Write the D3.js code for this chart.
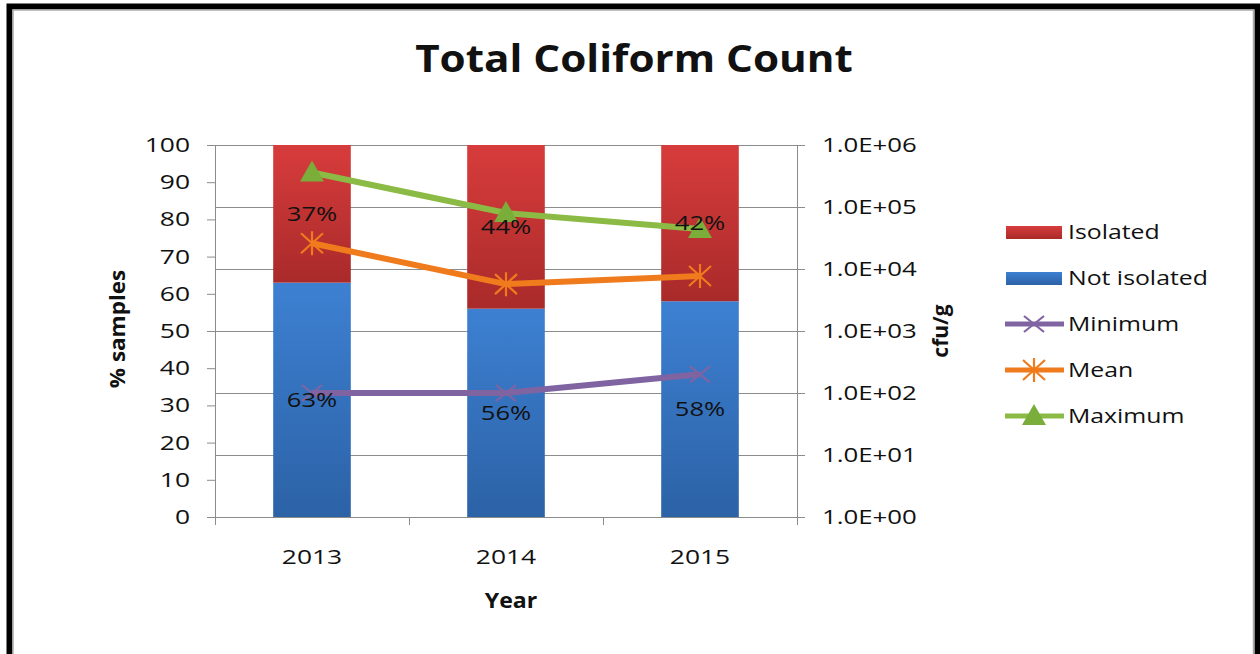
<!DOCTYPE html>
<html>
<head>
<meta charset="utf-8">
<script src="https://cdn.jsdelivr.net/npm/d3@7"></script>
<style>
  html, body { margin: 0; padding: 0; background: #fff; }
  svg { display: block; }
  text { font-family: "Open Sans", "Liberation Sans", sans-serif; fill: #111; }
</style>
</head>
<body>
<svg id="chart" width="1260" height="654"></svg>
<script>
// Survey years
const years = ["2013", "2014", "2015"];
// Share of samples (%)
const notIsolated = [63, 56, 58];
const isolated = [37, 44, 42];
// Counts in cfu/g (log axis)
const minimum = [100, 100, 200];
const mean = [26000, 5700, 7700];
const maximum = [360000, 80000, 44000];
// Axis ticks
const pctTicks = [0, 10, 20, 30, 40, 50, 60, 70, 80, 90, 100];
const logTicks = [1, 10, 100, 1000, 10000, 100000, 1000000];

const svg = d3.select("#chart");

// widen glyphs horizontally by factor k
function stretch(sel, k) {
  sel.each(function () {
    const w = this.getComputedTextLength();
    d3.select(this).attr("textLength", w * k).attr("lengthAdjust", "spacingAndGlyphs");
  });
}

// frame
svg.append("rect").attr("x", 9.5).attr("y", 6.5).attr("width", 1248).attr("height", 660)
  .attr("fill", "none").attr("stroke", "#000").attr("stroke-width", 6);
svg.append("rect").attr("x", 13).attr("y", 10).attr("width", 1240.5).attr("height", 660)
  .attr("fill", "none").attr("stroke", "#aaa").attr("stroke-width", 1.5);

const plotLeft = 215, plotRight = 797, plotTop = 145, plotBottom = 517;

const x = d3.scaleBand().domain(years).range([plotLeft, plotRight]).paddingInner(0.6).paddingOuter(0.3);
const xCenter = d => x(d) + x.bandwidth() / 2;
const yPct = d3.scaleLinear().domain([0, 100]).range([plotBottom, plotTop]);
const yLog = d3.scaleLog().domain([1, 1000000]).range([plotBottom, plotTop]);

// gradients for bars
const defs = svg.append("defs");
function grad(id, c1, c2) {
  const g = defs.append("linearGradient").attr("id", id).attr("x1", 0).attr("y1", 0).attr("x2", 0).attr("y2", 1);
  g.append("stop").attr("offset", "0%").attr("stop-color", c1);
  g.append("stop").attr("offset", "100%").attr("stop-color", c2);
}
grad("gRed", "#d83c3c", "#a92a2a");
grad("gBlue", "#3d80d2", "#2c62a6");

// gridlines from log ticks
svg.append("g").selectAll("line").data(logTicks).join("line")
  .attr("x1", plotLeft).attr("x2", plotRight)
  .attr("y1", d => Math.round(yLog(d)) + 0.5).attr("y2", d => Math.round(yLog(d)) + 0.5)
  .attr("stroke", "#8c8c8c").attr("stroke-width", 1);

// stacked bars
const bars = svg.append("g");
years.forEach((yr, i) => {
  bars.append("rect").attr("x", x(yr)).attr("width", x.bandwidth())
    .attr("y", yPct(notIsolated[i])).attr("height", yPct(0) - yPct(notIsolated[i]))
    .attr("fill", "url(#gBlue)");
  bars.append("rect").attr("x", x(yr)).attr("width", x.bandwidth())
    .attr("y", yPct(notIsolated[i] + isolated[i])).attr("height", yPct(notIsolated[i]) - yPct(notIsolated[i] + isolated[i]))
    .attr("fill", "url(#gRed)");
});

// left axis
const axL = svg.append("g").attr("transform", `translate(${plotLeft},0)`)
  .call(d3.axisLeft(yPct).tickValues(pctTicks).tickSize(8).tickPadding(17).tickFormat(d3.format("d")));
axL.select(".domain").attr("stroke", "#8c8c8c");
axL.selectAll(".tick line").attr("stroke", "#8c8c8c");
axL.selectAll("text").attr("font-size", 20).attr("fill", "#111").attr("font-family", "Open Sans");
stretch(axL.selectAll("text"), 1.32);

// right axis
const axR = svg.append("g").attr("transform", `translate(${plotRight},0)`)
  .call(d3.axisRight(yLog).tickValues(logTicks).tickSize(8).tickPadding(17)
    .tickFormat(d => "1.0E+" + String(Math.round(Math.log10(d))).padStart(2, "0")));
axR.select(".domain").attr("stroke", "#8c8c8c");
axR.selectAll(".tick line").attr("stroke", "#8c8c8c").attr("x1", -8).attr("x2", 8);
axR.selectAll("text").attr("font-size", 20).attr("fill", "#111").attr("font-family", "Open Sans");
stretch(axR.selectAll("text"), 1.29);

// bottom axis
const bandEdges = [plotLeft, plotLeft + (plotRight - plotLeft) / 3, plotLeft + 2 * (plotRight - plotLeft) / 3, plotRight];
const axB = svg.append("g").attr("transform", `translate(0,${plotBottom})`);
axB.append("line").attr("x1", plotLeft).attr("x2", plotRight).attr("y1", 0.5).attr("y2", 0.5).attr("stroke", "#8c8c8c");
axB.selectAll(".tk").data(bandEdges).join("line").attr("class", "tk")
  .attr("x1", d => Math.round(d) + 0.5).attr("x2", d => Math.round(d) + 0.5).attr("y1", 0).attr("y2", 8).attr("stroke", "#8c8c8c");
axB.selectAll("text").data(years).join("text")
  .attr("x", d => xCenter(d)).attr("y", 47).attr("text-anchor", "middle").attr("font-size", 20)
  .text(d => d).call(stretch, 1.32);

// series lines
const series = [
  { name: "Minimum", values: minimum, color: "#8064a2", marker: "x" },
  { name: "Mean", values: mean, color: "#f07b1c", marker: "star" },
  { name: "Maximum", values: maximum, color: "#8bbb45", marker: "tri" }
];
const line = d3.line().x((d, i) => xCenter(years[i])).y(d => yLog(d));

function drawMarker(g, type, cx, cy, color) {
  if (type === "tri") {
    g.append("path").attr("d", `M${cx},${cy - 12}L${cx + 12},${cy + 9}L${cx - 12},${cy + 9}Z`).attr("fill", "#7aad3a");
  } else if (type === "x") {
    g.append("path").attr("d", `M${cx - 10},${cy - 8}L${cx + 10},${cy + 8}M${cx - 10},${cy + 8}L${cx + 10},${cy - 8}`)
      .attr("stroke", color).attr("stroke-width", 2.2);
  } else {
    g.append("path").attr("d", `M${cx - 11},${cy - 10}L${cx + 11},${cy + 10}M${cx - 11},${cy + 10}L${cx + 11},${cy - 10}M${cx},${cy - 12}L${cx},${cy + 12}`)
      .attr("stroke", color).attr("stroke-width", 2.2);
  }
}

series.forEach(s => {
  svg.append("path").datum(s.values).attr("d", line).attr("fill", "none")
    .attr("stroke", s.color).attr("stroke-width", 6).attr("stroke-linejoin", "round");
  const g = svg.append("g");
  s.values.forEach((v, i) => drawMarker(g, s.marker, xCenter(years[i]), yLog(v), s.color));
});

// bar value labels, on top of the lines
years.forEach((yr, i) => {
  svg.append("text").attr("x", xCenter(yr)).attr("y", (yPct(0) + yPct(notIsolated[i])) / 2 + 7)
    .attr("text-anchor", "middle").attr("font-size", 20).text(notIsolated[i] + "%").call(stretch, 1.28);
  svg.append("text").attr("x", xCenter(yr)).attr("y", (yPct(notIsolated[i]) + yPct(100)) / 2 + 7)
    .attr("text-anchor", "middle").attr("font-size", 20).text(isolated[i] + "%").call(stretch, 1.28);
});

// titles
svg.append("text").attr("x", 634).attr("y", 72).attr("text-anchor", "middle")
  .attr("font-size", 38).attr("font-weight", "bold").text("Total Coliform Count").call(stretch, 1.11);
svg.append("text").attr("transform", "translate(125,329) rotate(-90)").attr("text-anchor", "middle")
  .attr("font-size", 21).attr("font-weight", "bold").text("% samples").call(stretch, 1.07);
svg.append("text").attr("transform", "translate(948,331) rotate(-90)").attr("text-anchor", "middle")
  .attr("font-size", 21).attr("font-weight", "bold").text("cfu/g");
svg.append("text").attr("x", 511).attr("y", 608).attr("text-anchor", "middle")
  .attr("font-size", 21).attr("font-weight", "bold").text("Year").call(stretch, 1.1);

// legend
const legend = svg.append("g");
const legendItems = [
  { name: "Isolated", type: "bar", fill: "url(#gRed)" },
  { name: "Not isolated", type: "bar", fill: "url(#gBlue)" },
  { name: "Minimum", type: "line", color: "#8064a2", marker: "x" },
  { name: "Mean", type: "line", color: "#f07b1c", marker: "star" },
  { name: "Maximum", type: "line", color: "#8bbb45", marker: "tri" }
];
legendItems.forEach((it, i) => {
  const cy = 232 + i * 46;
  if (it.type === "bar") {
    legend.append("rect").attr("x", 1006).attr("y", cy - 6).attr("width", 56).attr("height", 13).attr("fill", it.fill);
  } else {
    legend.append("line").attr("x1", 1005).attr("x2", 1064).attr("y1", cy).attr("y2", cy)
      .attr("stroke", it.color).attr("stroke-width", 5);
    drawMarker(legend, it.marker, 1034, cy, it.color);
  }
  legend.append("text").attr("x", 1068).attr("y", cy + 7).attr("font-size", 20).text(it.name).call(stretch, 1.24);
});
</script>
</body>
</html>
